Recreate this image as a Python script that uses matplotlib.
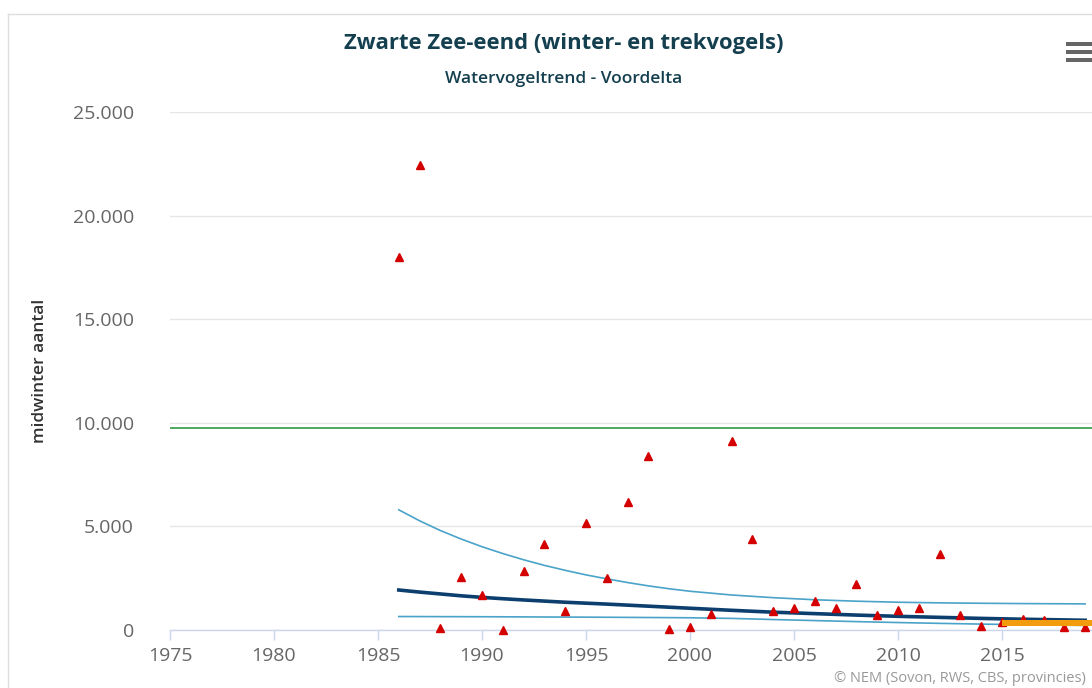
import matplotlib.pyplot as plt
from matplotlib.patches import Rectangle
from matplotlib.lines import Line2D
from matplotlib.ticker import FuncFormatter

# midwinter counts (red triangles)
years = list(range(1986, 2020))
counts = [18000, 22450, 100, 2560, 1690, 0, 2850, 4150, 920, 5160,
          2510, 6180, 8400, 50, 150, 770, 9120, 4390, 920, 1060,
          1400, 1060, 2220, 720, 970, 1060, 3670, 720, 190, 400,
          530, 480, 150, 150]

# trend with confidence band
trend_years = [1986, 1987, 1988, 1989, 1990, 1991, 1992, 1993, 1994, 1995,
               1996, 1997, 1998, 1999, 2000, 2002, 2004, 2006, 2008, 2010,
               2012, 2014, 2016, 2019]
trend = [1930, 1830, 1740, 1650, 1575, 1510, 1450, 1395, 1340, 1295,
         1250, 1200, 1150, 1100, 1050, 950, 860, 790, 720, 660,
         610, 560, 520, 470]
upper = [5800, 5270, 4800, 4390, 4020, 3690, 3390, 3120, 2880, 2660,
         2470, 2290, 2130, 1990, 1870, 1690, 1560, 1460, 1390, 1340,
         1310, 1290, 1275, 1260]
lower = [650, 648, 645, 643, 640, 637, 632, 628, 624, 620,
         615, 609, 603, 597, 590, 560, 505, 455, 405, 360,
         320, 285, 255, 220]

# reference level (green)
ref_level = 9750

# recent period band (orange)
recent_years = [2015, 2019.4]
recent_low = [190, 190]
recent_high = [460, 460]

title = 'Zwarte Zee-eend (winter- en trekvogels)'
subtitle = 'Watervogeltrend - Voordelta'
ylabel = 'midwinter aantal'
credits = '© NEM (Sovon, RWS, CBS, provincies)'

plt.rcParams['font.family'] = ['Open Sans', 'DejaVu Sans']

fig = plt.figure(figsize=(10.92, 6.88), dpi=100)
ax = fig.add_axes([170 / 1092, 1 - 630 / 688, 1 - 170 / 1092, (630 - 112) / 688])

ax.set_xlim(1975, 2019.33)
ax.set_ylim(0, 25000)

ax.axhline(ref_level, color='#2e9a44', lw=1.2, zorder=2)
ax.plot(trend_years, upper, color='#4aa3c9', lw=1.2, zorder=3)
ax.plot(trend_years, lower, color='#4aa3c9', lw=1.2, zorder=3)
ax.plot(trend_years, trend, color='#0c3f6e', lw=2.6, zorder=4)
ax.plot(years, counts, linestyle='none', marker='^', markersize=6,
        color='#d40000', zorder=5, clip_on=False)
ax.fill_between(recent_years, recent_low, recent_high, color='#f39c0e',
                lw=0, zorder=6)

ax.set_yticks(range(0, 25001, 5000))
ax.yaxis.set_major_formatter(FuncFormatter(lambda v, p: f'{int(v):,}'.replace(',', '.')))
ax.set_xticks(range(1975, 2020, 5))
ax.grid(axis='y', color='#e6e6e6', lw=1)
ax.set_axisbelow(True)

for s in ['top', 'right', 'left']:
    ax.spines[s].set_visible(False)
ax.spines['bottom'].set_color('#ccd6eb')
ax.spines['bottom'].set_linewidth(1)
ax.tick_params(axis='x', colors='#ccd6eb', length=7, width=1, labelcolor='#666666',
               labelsize=14, pad=5)
ax.tick_params(axis='y', length=0, labelcolor='#666666', labelsize=14, pad=26)

ax.set_ylabel(ylabel, fontsize=12.5, color='#333333', fontweight='semibold')
ax.yaxis.set_label_coords(-122 / 922, 0.5)

fig.text(0.516, 1 - 44 / 688, title, ha='center', va='center', fontsize=15.8,
         fontweight='bold', color='#143f4f')
fig.text(0.516, 1 - 79 / 688, subtitle, ha='center', va='center', fontsize=12.5,
         fontweight='semibold', color='#143f4f')
fig.text(1086 / 1092, 1 - 678 / 688, credits, ha='right', va='center', fontsize=10.5,
         color='#999999')

# chart container border
fig.add_artist(Line2D([8 / 1092, 1], [1 - 14 / 688, 1 - 14 / 688], color='#dddddd', lw=1))
fig.add_artist(Line2D([8 / 1092, 8 / 1092], [0, 1 - 14 / 688], color='#dddddd', lw=1))

# menu icon
for yy in [42, 50, 58]:
    fig.add_artist(Rectangle((1066 / 1092, 1 - (yy + 4) / 688), 30 / 1092, 4 / 688,
                             color='#666666', lw=0))

fig.savefig('out.png', dpi=100)
